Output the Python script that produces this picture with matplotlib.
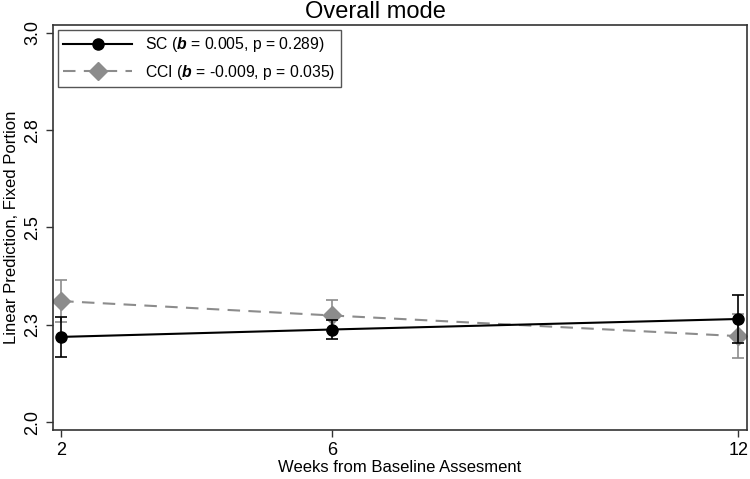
import matplotlib
matplotlib.use("Agg")
import matplotlib.pyplot as plt
from matplotlib.lines import Line2D

plt.rcParams["font.family"] = ["Liberation Sans", "DejaVu Sans"]
plt.rcParams["mathtext.fontset"] = "custom"
plt.rcParams["mathtext.it"] = "Liberation Sans:italic:bold"
plt.rcParams["mathtext.rm"] = "Liberation Sans"

# Data
weeks = [2, 6, 12]
sc_mean = [2.219, 2.238, 2.265]
sc_err = [0.051, 0.025, 0.062]
cci_mean = [2.311, 2.274, 2.221]
cci_err = [0.055, 0.041, 0.057]
sc_label = "SC ($b$ = 0.005, p = 0.289)"
cci_label = "CCI ($b$ = -0.009, p = 0.035)"
y_ticks = [2.0, 2.25, 2.5, 2.75, 3.0]
y_ticklabels = ["2.0", "2.3", "2.5", "2.8", "3.0"]

grey = "#8c8c8c"
dash = (0, (6, 4))

fig = plt.figure(figsize=(7.5, 4.79), dpi=100)
ax = fig.add_axes([0.0707, 0.1023, 0.9253, 0.8457])

ax.errorbar(weeks, cci_mean, yerr=cci_err, color=grey, linestyle=dash,
            linewidth=1.5, marker="D", markersize=9, capsize=4.5, elinewidth=1.2,
            capthick=1.2, zorder=2)
ax.errorbar(weeks, sc_mean, yerr=sc_err, color="black", linestyle="-",
            linewidth=1.5, marker="o", markersize=8, capsize=4.5, elinewidth=1.2,
            capthick=1.2, zorder=3)

ax.set_xlim(1.88, 12.13)
ax.set_ylim(1.98, 3.02)
ax.set_xticks(weeks)
ax.set_yticks(y_ticks)
ax.set_yticklabels(y_ticklabels, rotation=90, va="center")
ax.tick_params(axis="both", labelsize=13, length=5, width=1, color="#333333")

for side in ["left", "bottom", "right", "top"]:
    ax.spines[side].set_linewidth(1.2)
    ax.spines[side].set_color("#333333")

fig.text(0.5, 0.975, "Overall mode", fontsize=17, ha="center", va="center")
ax.set_xlabel("Weeks from Baseline Assesment", fontsize=12, labelpad=1)
ax.set_ylabel("Linear Prediction, Fixed Portion", fontsize=12, labelpad=4)

handles = [
    Line2D([], [], color="black", linewidth=1.5, marker="o", markersize=8),
    Line2D([], [], color=grey, linewidth=1.5, linestyle=dash, marker="D", markersize=9),
]
leg = ax.legend(handles, [sc_label, cci_label], loc="upper left", fontsize=11.3,
                fancybox=False, edgecolor="#555555", framealpha=1,
                borderaxespad=0.3, borderpad=0.35, handlelength=4.4,
                handletextpad=0.8, labelspacing=0.55)
leg.get_frame().set_linewidth(1.0)

fig.savefig("out.png", dpi=100)
